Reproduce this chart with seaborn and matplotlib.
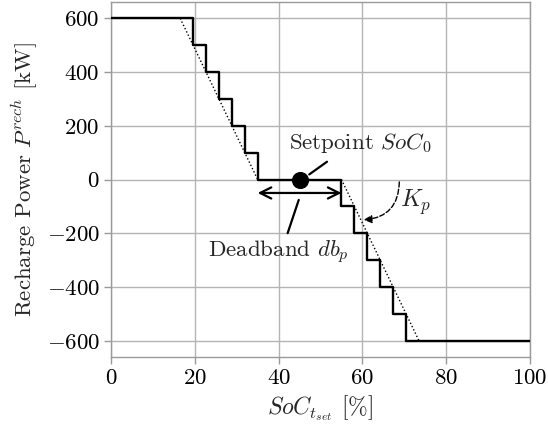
import matplotlib
matplotlib.use("Agg")
import matplotlib.pyplot as plt
import seaborn as sns
import pandas as pd

# Data
soc_steps = [0, 19.5, 22.6, 25.7, 28.8, 31.9, 35, 55, 58.1, 61.2, 64.3, 67.4, 70.5, 100]
power_steps = [600, 500, 400, 300, 200, 100, 0, -100, -200, -300, -400, -500, -600, -600]
kp_left_soc = [16.5, 35]
kp_left_power = [600, 0]
kp_right_soc = [55, 73.5]
kp_right_power = [0, -600]
setpoint_soc = [45]
setpoint_power = [0]
deadband = [35, 55]
xticks = [0, 20, 40, 60, 80, 100]
yticks = [-600, -400, -200, 0, 200, 400, 600]

FS = 16.5

sns.set_theme(style="whitegrid")
plt.rcParams.update({
    "font.family": "serif",
    "font.serif": ["cmr10"],
    "mathtext.fontset": "cm",
    "axes.formatter.use_mathtext": True,
    "axes.unicode_minus": True,
    "font.size": FS,
})

fig = plt.figure(figsize=(5.48, 4.30), dpi=100)
ax = fig.add_axes([0.2026, 0.170, 0.7646, 0.825])

df_step = pd.DataFrame({"soc": soc_steps, "p": power_steps})
sns.lineplot(data=df_step, x="soc", y="p", ax=ax, color="black", lw=1.7,
             drawstyle="steps-post", estimator=None, sort=False, zorder=4)
sns.lineplot(x=kp_left_soc, y=kp_left_power, ax=ax, color="black", lw=1.0,
             linestyle=(0, (1, 1.6)), estimator=None, zorder=3)
sns.lineplot(x=kp_right_soc, y=kp_right_power, ax=ax, color="black", lw=1.0,
             linestyle=(0, (1, 1.6)), estimator=None, zorder=3)
sns.scatterplot(x=setpoint_soc, y=setpoint_power, ax=ax, color="black", s=130,
                edgecolor="black", zorder=5)

# deadband arrow
ax.annotate("", xy=(deadband[0], -50), xytext=(deadband[1], -50),
            arrowprops=dict(arrowstyle="<->", lw=1.6, color="black",
                            mutation_scale=20, shrinkA=0, shrinkB=0))
ax.annotate(r"Setpoint $SoC_0$", xy=(46.5, 10), xytext=(59.5, 135),
            ha="center", va="center", fontsize=FS,
            arrowprops=dict(arrowstyle="-", lw=1.6, color="black",
                            shrinkA=4, shrinkB=3,
                            relpos=(0.33, 0.0)))
ax.annotate(r"Deadband $db_p$", xy=(44.8, -76), xytext=(40.0, -272),
            ha="center", va="center", fontsize=FS,
            arrowprops=dict(arrowstyle="-", lw=1.6, color="black",
                            shrinkA=2, shrinkB=0, relpos=(0.55, 1.0)))
ax.annotate("", xy=(60.3, -150), xytext=(68.8, -9),
            arrowprops=dict(arrowstyle="-|>", lw=1.0, color="black",
                            linestyle="--", mutation_scale=12,
                            connectionstyle="arc3,rad=-0.45",
                            shrinkA=0, shrinkB=0))
ax.text(72.6, -85, r"$K_p$", ha="center", va="center", fontsize=FS + 1)

ax.set_xlim(0, 100)
ax.set_ylim(-660, 660)
ax.set_xticks(xticks)
ax.set_yticks(yticks)
ax.set_xlabel(r"$SoC_{t_{set}}$ [%]", fontsize=FS + 0.5, labelpad=4)
ax.set_ylabel(r"Recharge Power $P^{rech}$ [kW]", fontsize=FS, labelpad=5)
ax.grid(True, color="#b4b4b4", lw=1.0)
for s in ax.spines.values():
    s.set_color("#9a9a9a")
    s.set_linewidth(1.0)
ax.tick_params(axis="both", which="major", length=5, width=1.0, color="#9a9a9a",
               labelsize=FS, labelcolor="black", direction="out",
               bottom=True, left=True, pad=3)

fig.savefig("out.png", dpi=100)
